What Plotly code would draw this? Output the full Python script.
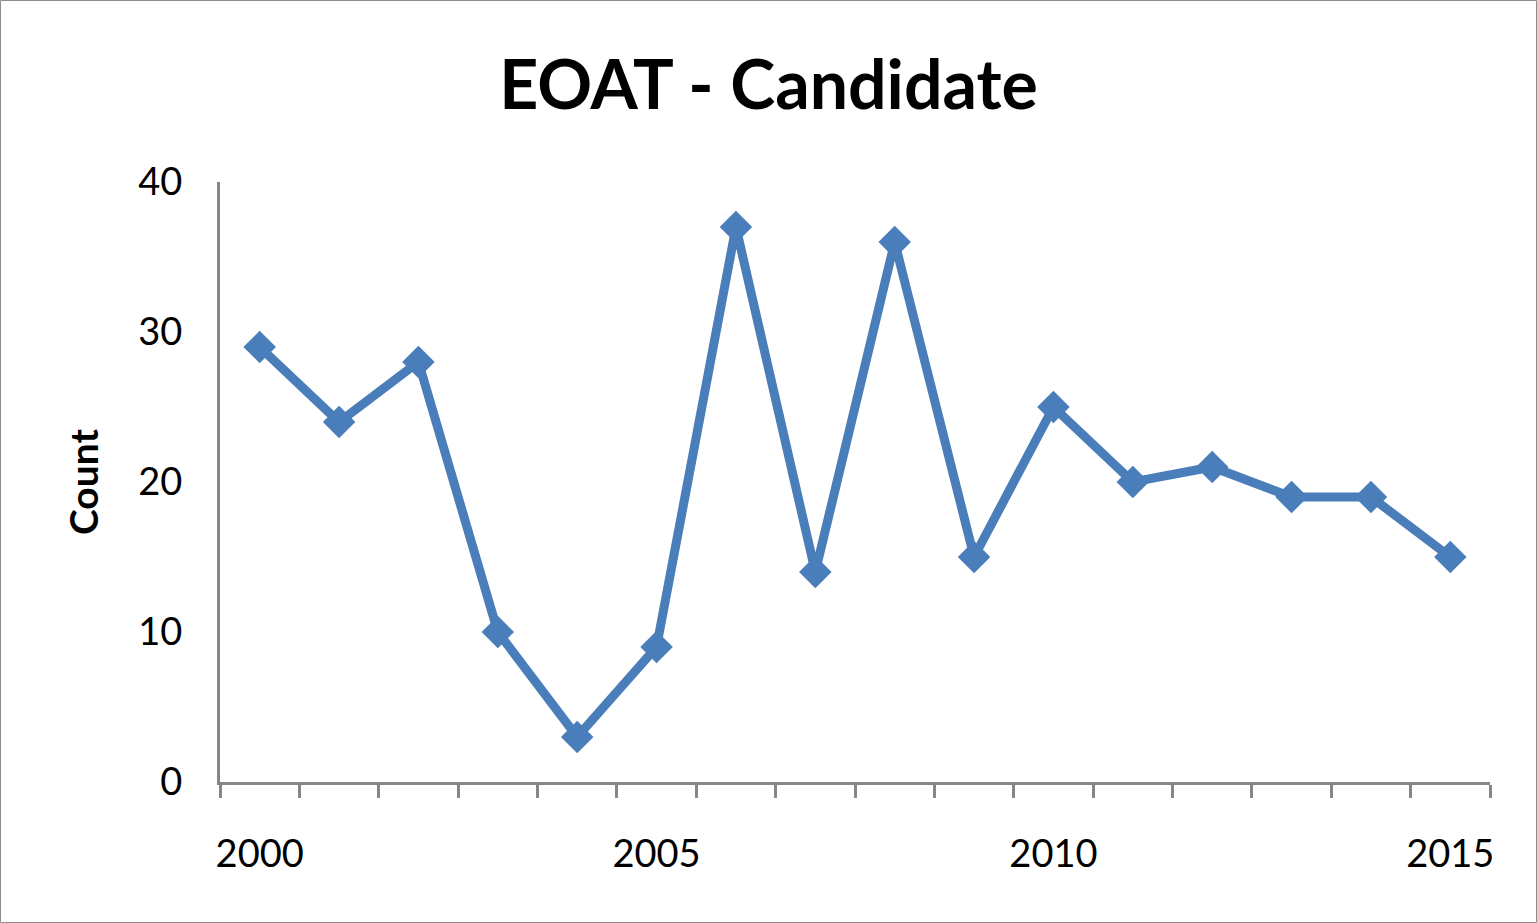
import plotly.graph_objects as go

years = list(range(2000, 2016))
counts = [29, 24, 28, 10, 3, 9, 37, 14, 36, 15, 25, 20, 21, 19, 19, 15]
tick_years = [2000, 2005, 2010, 2015]
y_ticks = [0, 10, 20, 30, 40]

W, H = 1537, 923
L, R, T, B = 220, 47, 182, 141
pw, ph = W - L - R, H - T - B

idx = list(range(len(years)))
fig = go.Figure()
fig.add_trace(go.Scatter(
    x=idx, y=counts, mode="lines+markers",
    line=dict(color="#4A7EBB", width=9),
    marker=dict(symbol="diamond", size=25, color="#4A7EBB", line=dict(width=0)),
    showlegend=False, cliponaxis=False,
))

axis_col = "#868686"
fig.update_layout(
    width=W, height=H,
    margin=dict(l=L, r=R, t=T, b=B),
    paper_bgcolor="white", plot_bgcolor="white",
    font=dict(family="Lato", color="black"),
    title=dict(text="<b>EOAT - Candidate</b>", x=0.5, xref="container", xanchor="center",
               y=1 - 85 / H, yref="container", yanchor="middle",
               font=dict(size=68, family="Lato", color="black")),
    xaxis=dict(
        range=[-0.5, len(years) - 0.5],
        tickmode="array",
        tickvals=[years.index(y) for y in tick_years],
        ticktext=[str(y) for y in tick_years],
        ticks="", showgrid=False, zeroline=False,
        showline=True, linecolor=axis_col, linewidth=3,
        tickfont=dict(size=38, family="Lato"),
        ticklabelstandoff=36,
        minor=dict(ticks="outside", ticklen=13, tickwidth=3, tickcolor=axis_col,
                   tickmode="array", tickvals=[i - 0.5 for i in range(len(years) + 1)],
                   showgrid=False),
    ),
    yaxis=dict(
        range=[0, 40], tickmode="array", tickvals=y_ticks,
        ticks="", showgrid=False, zeroline=False,
        showline=True, linecolor=axis_col, linewidth=3,
        tickfont=dict(size=38, family="Lato"),
        ticklabelstandoff=27,
        title=dict(text="<b>Count</b>", font=dict(size=39, family="Lato"), standoff=28),
    ),
)

fig.add_shape(type="rect", xref="paper", yref="paper",
              x0=(0.5 - L) / pw, x1=(W - 0.5 - L) / pw,
              y0=(T + ph - (H - 0.5)) / ph, y1=(T + ph - 0.5) / ph,
              line=dict(color="#8C8C8C", width=1), layer="below")

fig.write_html("out.html")
